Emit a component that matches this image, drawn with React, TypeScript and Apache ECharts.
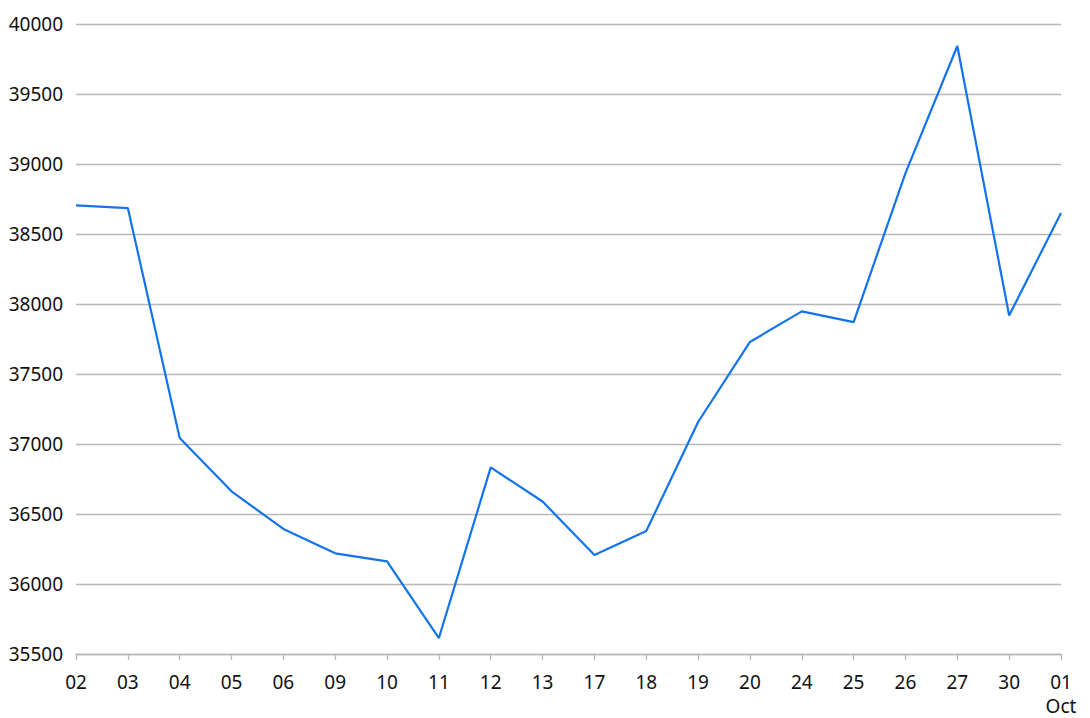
import React, { useEffect, useRef } from 'react';
import * as echarts from 'echarts';

const days = ['02', '03', '04', '05', '06', '09', '10', '11', '12', '13', '17', '18', '19', '20', '24', '25', '26', '27', '30', '01'];
const values = [38705, 38685, 37043, 36662, 36393, 36219, 36161, 35614, 36833, 36589, 36207, 36378, 37157, 37729, 37947, 37871, 38935, 39843, 37918, 38650];
const yMin = 35500;
const yMax = 40000;
const yStep = 500;

const App: React.FC = () => {
  const chartRef = useRef<HTMLDivElement>(null);

  useEffect(() => {
    if (!chartRef.current) return;
    const chart = echarts.init(chartRef.current, undefined, { renderer: 'svg' });

    const textStyle = { fontFamily: 'Noto Sans', fontSize: 19, color: '#111' };

    const option: echarts.EChartsOption = {
      animation: false,
      backgroundColor: '#fff',
      grid: { left: 76, right: 29, top: 24, bottom: 64 },
      xAxis: {
        type: 'category',
        data: days,
        boundaryGap: false,
        axisLine: { lineStyle: { color: '#b8b8b8', width: 1.3 } },
        axisTick: { alignWithLabel: true, length: 6, lineStyle: { color: '#b8b8b8', width: 1.3 } },
        axisLabel: {
          ...textStyle,
          margin: 16,
          lineHeight: 24,
          interval: 0,
          formatter: (v: string, i: number) => (i === days.length - 1 ? `${v}\nOct` : v)
        }
      },
      yAxis: {
        type: 'value',
        min: yMin,
        max: yMax,
        interval: yStep,
        axisLine: { show: false },
        axisTick: { show: false },
        axisLabel: { ...textStyle, margin: 13, formatter: (v: number) => String(v) },
        splitLine: { lineStyle: { color: '#b8b8b8', width: 1.3 } }
      },
      series: [
        {
          type: 'line',
          data: values,
          symbol: 'none',
          lineStyle: { color: '#1273eb', width: 2.2 }
        }
      ]
    };

    chart.setOption(option);
    return () => chart.dispose();
  }, []);

  return <div ref={chartRef} style={{ position: 'fixed', left: 0, top: 0, width: 1090, height: 718 }} />;
};

export default App;
